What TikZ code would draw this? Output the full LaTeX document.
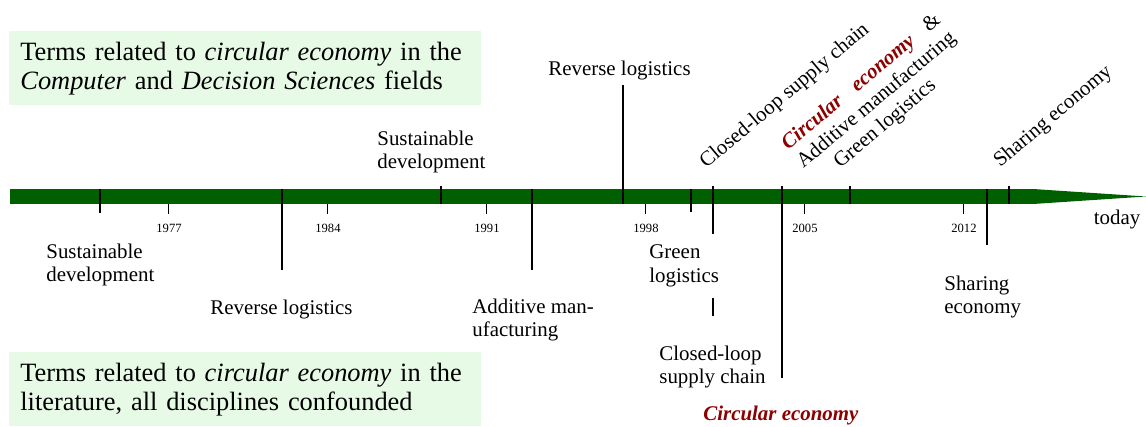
\documentclass[tikz,border=0pt]{standalone}
\usepackage{fontspec}
\setmainfont{Liberation Serif}
\definecolor{bargreen}{RGB}{0,96,0}
\definecolor{boxgreen}{RGB}{230,250,230}
\definecolor{cered}{RGB}{140,0,0}
\newlength\amw
\newcommand\cered[1]{\textcolor{cered}{\textbf{\textit{#1}}}}
\begin{document}
\settowidth{\amw}{\fontsize{10.45}{11.8}\selectfont Additive manufacturing}%
\begin{tikzpicture}[x=0.5pt,y=-0.5pt,
  lbl/.style={font=\fontsize{10.45}{11.8}\selectfont, inner sep=0pt, align=left},
  yr/.style={font=\fontsize{6.3}{7.5}\selectfont, inner sep=0pt},
  ev/.style={line width=0.65pt, black},
  ytick/.style={line width=0.5pt, black},
  rot/.style={lbl, rotate=40, anchor=base west},
  note/.style={fill=boxgreen, anchor=north west, inner xsep=5.5pt, inner ysep=0pt,
    text width=225pt, minimum height=37pt, align=left,
    font=\fontsize{13.2}{14.5}\selectfont}]
\useasboundingbox (0,0) rectangle (1146,427);

% note boxes
\node[note] (top) at (9,31) {\makebox[221pt][s]{Terms related to \textit{circular economy} in the}\\
  \textit{Computer} and \textit{Decision Sciences} fields};
\node[note] (bottom) at (9,352) {\makebox[221pt][s]{Terms related to \textit{circular economy} in the}\\
  literature, all disciplines confounded};

% timeline bar
\fill[bargreen] (10,189) rectangle (1033,204);
\fill[bargreen] (1033,189) -- (1146,196.5) -- (1033,204) -- cycle;

% years
\foreach \yr in {1977,1984,1991,1998,2005,2012}{
  \pgfmathsetmacro\xx{10+(\yr-1970)*22.714}
  \draw[ytick] (\xx,204) -- (\xx,214);
  \node[yr] (y\yr) at (\xx,228) {\yr};
}
\node[lbl] (today) at (1117,220) {today};

% lower events (all disciplines)
\foreach \xx/\yy in {100/213, 282/270, 532/270, 691/212, 713/316, 782/378, 987/245}{
  \draw[ev] (\xx,189) -- (\xx,\yy);
}
\node[lbl, anchor=west] (lsd) at (46,265) {Sustainable\\development};
\node[lbl, anchor=west] (lrl) at (210,310) {Reverse logistics};
\node[lbl, anchor=west] (lam) at (472,320) {Additive man-\\ufacturing};
\node[lbl, anchor=west, fill=white, inner ysep=5.5pt] (lgl) at (649,266) {Green\\logistics};
\node[lbl, anchor=west] (lcl) at (659,367) {Closed-loop\\supply chain};
\node[lbl, anchor=west] (lce) at (703,416) {\cered{Circular economy}};
\node[lbl, anchor=west] (lse) at (944,297) {Sharing\\economy};

% upper events (Computer and Decision Sciences)
\foreach \xx/\yy in {441/186, 623/85, 713/186, 782/186, 850/186, 1009/186}{
  \draw[ev] (\xx,204) -- (\xx,\yy);
}
\node[lbl, anchor=west] (usd) at (377,152) {Sustainable\\development};
\node[lbl, anchor=west] (url) at (548,71) {Reverse logistics};
\node[rot] (ucl) at (706,169) {Closed-loop supply chain};
\node[rot] (uce) at (803,169) {\hbox to\amw{\cered{Circular}\hfill\cered{economy}\hfill\&}\\Additive manufacturing};
\node[rot] (ugl) at (840,169) {Green logistics};
\node[rot] (use) at (1000,168) {Sharing economy};
\end{tikzpicture}
\end{document}
